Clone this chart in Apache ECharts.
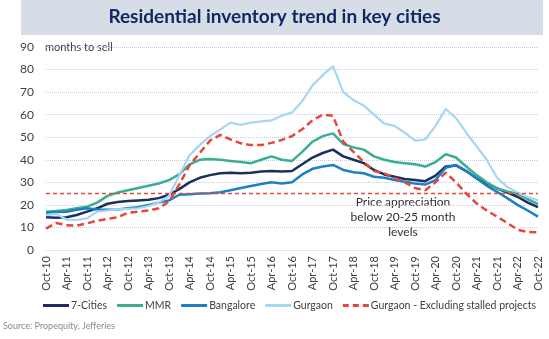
<!DOCTYPE html>
<html>
<head>
<meta charset="utf-8">
<script src="https://cdn.jsdelivr.net/npm/echarts@6/dist/echarts.min.js"></script>
<style>
html,body{margin:0;padding:0;background:#fff;}
#c{width:549px;height:339px;}
</style>
</head>
<body>
<div id="c"></div>
<script>
var categories = ['Oct-10','Jan-11','Apr-11','Jul-11','Oct-11','Jan-12','Apr-12','Jul-12','Oct-12','Jan-13','Apr-13','Jul-13','Oct-13','Jan-14','Apr-14','Jul-14','Oct-14','Jan-15','Apr-15','Jul-15','Oct-15','Jan-16','Apr-16','Jul-16','Oct-16','Jan-17','Apr-17','Jul-17','Oct-17','Jan-18','Apr-18','Jul-18','Oct-18','Jan-19','Apr-19','Jul-19','Oct-19','Jan-20','Apr-20','Jul-20','Oct-20','Jan-21','Apr-21','Jul-21','Oct-21','Jan-22','Apr-22','Jul-22','Oct-22'];

var cities7 = [14.5,14.3,14.5,15.5,17,18.5,20.5,21.3,21.7,22,22.3,23,24.5,27,30,32,33.2,34,34.2,34,34.3,34.8,35,34.8,35,38,41,43,44.5,41.5,40,38.5,35.5,33.5,32.5,31.5,31,30.5,33,37,37.5,35,31.8,29.5,27.3,25.5,23.6,21,19];
var mmr = [17,17.3,17.7,18.5,19.2,21,24,25.5,26.5,27.5,28.5,29.5,31,33.5,38,40,40.3,40,39.5,39,38.5,40,41.5,40,39.5,43.5,48,50.5,51.7,47,45.5,44.5,41.5,40,39,38.5,38,37,39,42.5,41,37,33.2,30,27.3,26,25,22.5,20.3];
var bangalore = [16.5,16.8,17,17.8,18.5,18,17.8,18,18.5,19,20,21,22,24.5,24.7,25,25.2,25.6,26.5,27.5,28.4,29.3,30,29.5,30,33.5,36,37,37.7,35.5,34.5,34,32.5,32,31,30.3,29.5,29,31,36.5,37.7,35,31.8,28.5,25.8,23,20,17.5,14.8];
var gurgaon = [15.5,16,13.5,13.3,14,17,17.5,18,18.2,18.5,19.5,21,24,33,42,46.5,50.5,53.5,56.5,55.5,56.5,57,57.5,59.5,61,66,73,77.5,81.5,70,66.5,64,60,56,55,52,48.5,49,55,62.5,58.5,52,46,40,32,28,25.5,23.5,22];
var gurgaonExStalled = [9.5,12,11,10.8,11.8,13,13.8,14.5,16.5,17,17.5,18.5,21.5,29,37.5,43,48.5,51,49,47.3,46.5,46.5,47.5,48.8,50.5,53.5,57.5,60,59.5,48,43.5,39,35,34,32,30,27.5,26.5,30,34.3,30,25,20.7,17.5,14.8,12,9,8,7.8];

var seriesNames = ['7-Cities','MMR','Bangalore','Gurgaon','Gurgaon - Excluding stalled projects'];
var thresholdValue = 25;
var yTicks = {min:0, max:90, interval:10};
var titleText = 'Residential inventory trend in key cities';
var yUnitText = 'months to sell';
var noteLines = ['Price appreciation','below 20-25 month','levels'];
var sourceText = 'Source: Propequity, Jefferies';

var chart = echarts.init(document.getElementById('c'), null, {renderer:'canvas'});
var FONT = 'Lato';
var SOLID_ICON = 'path://M0,0L26,0L26,3L0,3Z';
var DASH_ICON = 'path://M0,0h6v3h-6zM10,0h6v3h-6zM20,0h6v3h-6z';
function lineSeries(name, data, color, width, dashed, extra){
  var s = {
    name:name, type:'line', data:data, symbol:'none', smooth:false,
    lineStyle:{color:color, width:width, type: dashed ? [7,4] : 'solid', cap:'butt'},
    itemStyle:{color:color}, emphasis:{disabled:true}, animation:false
  };
  if(extra){ for(var k in extra) s[k]=extra[k]; }
  return s;
}
var option = {
  animation:false,
  backgroundColor:'#ffffff',
  textStyle:{fontFamily:FONT},
  grid:{left:46, right:11, top:47, bottom:89, containLabel:false},
  xAxis:{
    type:'category', data:categories, boundaryGap:false,
    axisLine:{show:false}, axisTick:{show:false},
    axisLabel:{interval:1, rotate:90, margin:6, fontSize:11, color:'#404040', fontFamily:FONT},
    splitLine:{show:false}
  },
  yAxis:{
    type:'value', min:yTicks.min, max:yTicks.max, interval:yTicks.interval,
    axisLine:{show:false}, axisTick:{show:false},
    axisLabel:{margin:12, fontSize:12, color:'#404040', fontFamily:FONT},
    splitLine:{show:true, lineStyle:{color:'#c5cbe6', type:'dotted', width:1}}
  },
  legend:{
    left:43, top:300, width:520, padding:0, itemWidth:26, itemHeight:3, itemGap:10,
    textStyle:{fontSize:10.5, color:'#404040', fontFamily:FONT, padding:[0,0,0,-3]},
    data:[
      {name:seriesNames[0], icon:SOLID_ICON},
      {name:seriesNames[1], icon:SOLID_ICON},
      {name:seriesNames[2], icon:SOLID_ICON},
      {name:seriesNames[3], icon:SOLID_ICON},
      {name:seriesNames[4], icon:DASH_ICON}
    ]
  },
  series:[
    lineSeries(seriesNames[0], cities7, '#1b2f5e', 2.5, false),
    lineSeries(seriesNames[1], mmr, '#3aae92', 2.5, false),
    lineSeries(seriesNames[2], bangalore, '#1d80c3', 2.5, false),
    lineSeries(seriesNames[3], gurgaon, '#a3d7f2', 2.2, false),
    lineSeries(seriesNames[4], gurgaonExStalled, '#e5473b', 2.5, true, {
      markLine:{
        silent:true, symbol:['none','none'], animation:false,
        label:{show:false},
        lineStyle:{color:'#e5473b', type:[4,3], width:1.3},
        data:[{yAxis:thresholdValue}]
      }
    })
  ],
  graphic:[
    {type:'rect', left:21, top:0, shape:{width:522, height:35}, style:{fill:'#d7dde6'}, z:0},
    {type:'text', left:'center', top:7, style:{text:titleText, fontFamily:FONT, fontWeight:'bold', fontSize:19, fill:'#0f2a60'}, z:1},
    {type:'text', left:45, top:42, style:{text:yUnitText, fontFamily:FONT, fontSize:11, fill:'#404040'}},
    {type:'text', x:403, y:195, style:{text:noteLines.join('\n'), fontFamily:FONT, fontSize:12, lineHeight:15, fill:'#303030', align:'center', verticalAlign:'top'}},
    {type:'text', left:3, top:322, style:{text:sourceText, fontFamily:FONT, fontSize:9, fill:'#8a8a8a'}}
  ]
};
chart.setOption(option);
</script>
</body>
</html>
